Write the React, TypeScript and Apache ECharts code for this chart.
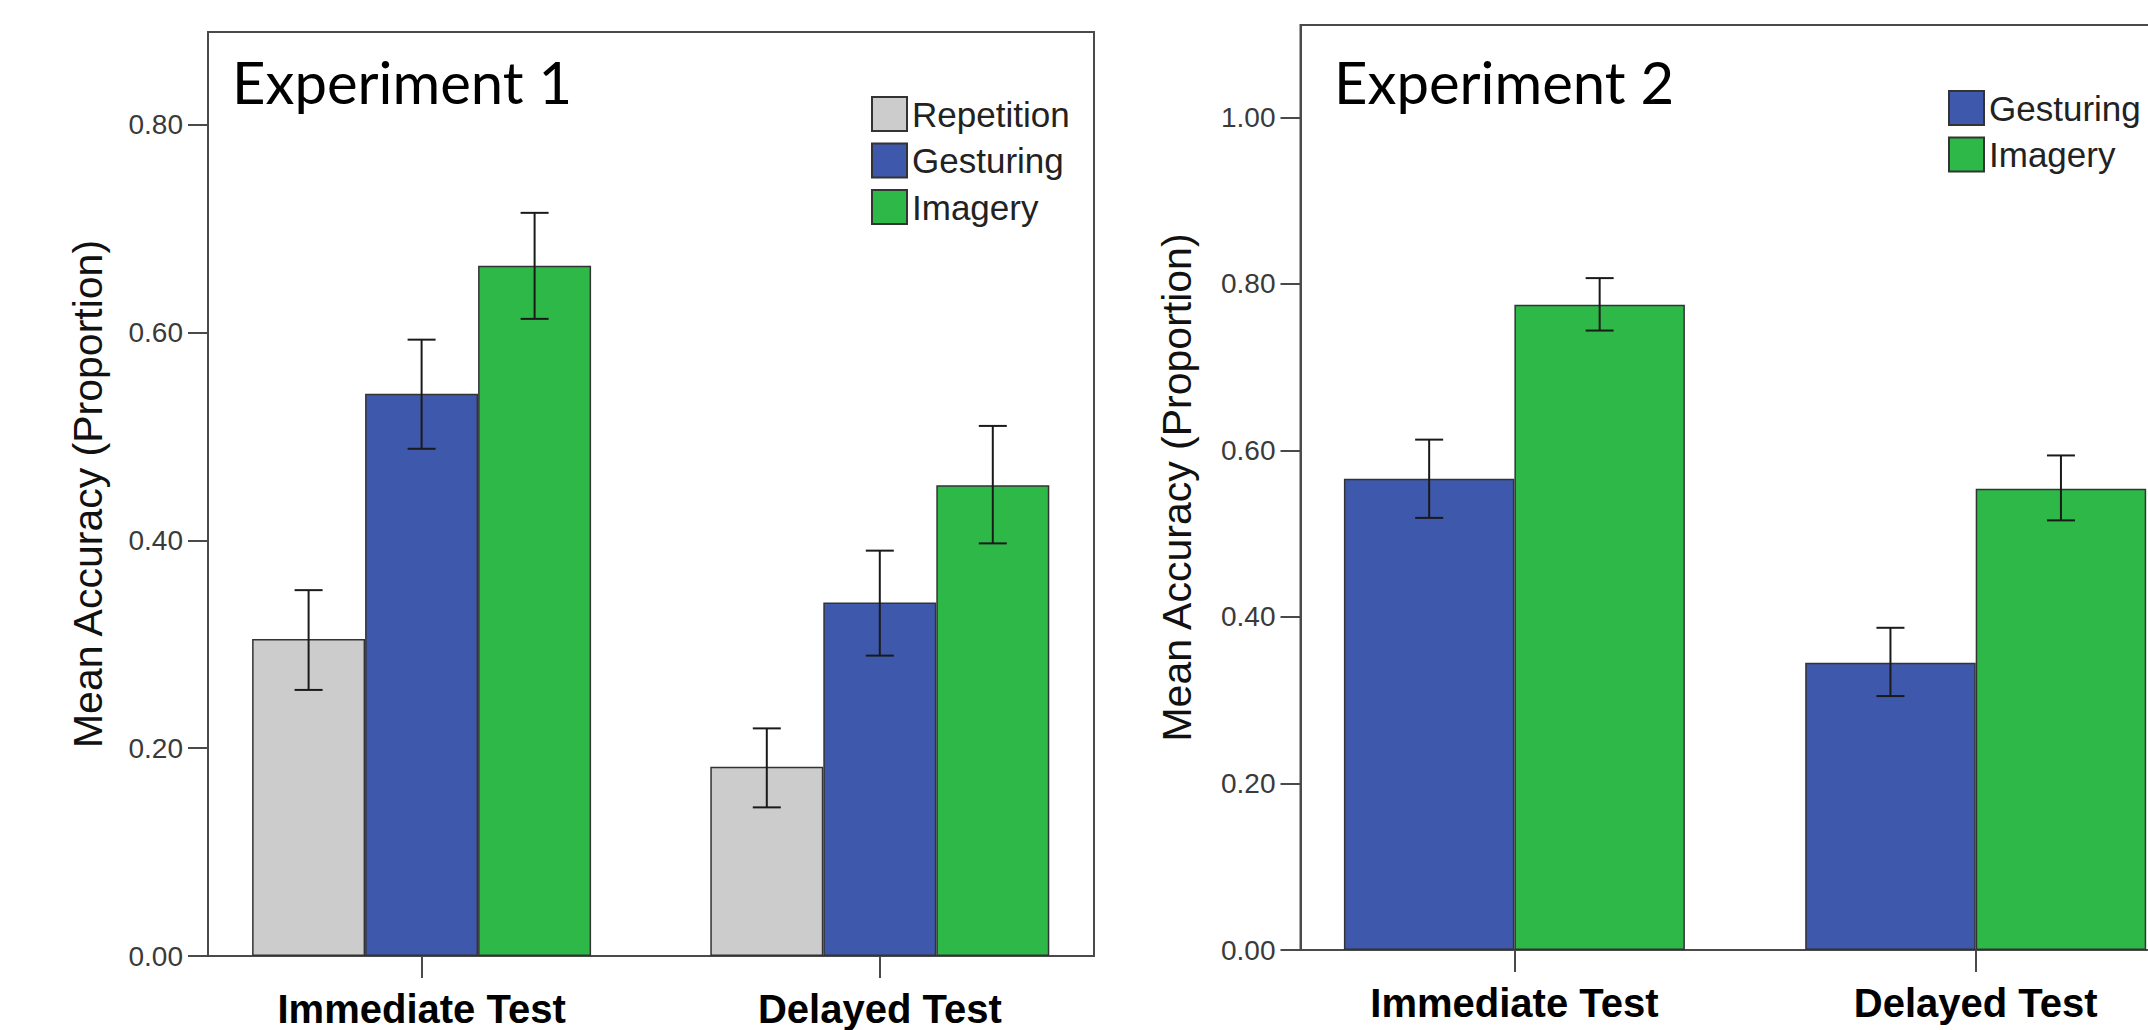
import React, { useEffect, useRef } from "react";
import * as echarts from "echarts";

// ---------- data ----------
const categories = ["Immediate Test", "Delayed Test"];

// Experiment 1
const exp1Series = ["Repetition", "Gesturing", "Imagery"];
const exp1Repetition = [0.305, 0.182];
const exp1RepetitionLow = [0.256, 0.143];
const exp1RepetitionHigh = [0.352, 0.219];
const exp1Gesturing = [0.541, 0.34];
const exp1GesturingLow = [0.488, 0.289];
const exp1GesturingHigh = [0.593, 0.39];
const exp1Imagery = [0.664, 0.453];
const exp1ImageryLow = [0.613, 0.397];
const exp1ImageryHigh = [0.715, 0.51];
const exp1Ticks = [0, 0.2, 0.4, 0.6, 0.8];
const exp1Max = 0.889;

// Experiment 2
const exp2Series = ["Gesturing", "Imagery"];
const exp2Gesturing = [0.566, 0.345];
const exp2GesturingLow = [0.519, 0.305];
const exp2GesturingHigh = [0.613, 0.387];
const exp2Imagery = [0.775, 0.554];
const exp2ImageryLow = [0.744, 0.516];
const exp2ImageryHigh = [0.807, 0.594];
const exp2Ticks = [0, 0.2, 0.4, 0.6, 0.8, 1.0];
const exp2Max = 1.111;

const titles = ["Experiment 1", "Experiment 2"];
const yName = "Mean Accuracy (Proportion)";

// ---------- styles ----------
const COLORS: Record<string, string> = {
  Repetition: "#cccccc",
  Gesturing: "#3e58ac",
  Imagery: "#2eb848",
};
const SANS = "'Liberation Sans', Arial, sans-serif";
const FRAME = "#4a4a4a";

function errSeries(
  xAxisIndex: number,
  yAxisIndex: number,
  lows: number[],
  highs: number[],
  k: number,
  n: number,
  barW: number
) {
  return {
    type: "custom",
    xAxisIndex,
    yAxisIndex,
    silent: true,
    z: 10,
    encode: { x: 0, y: [1, 2] },
    data: lows.map((lo, i) => [i, lo, highs[i]]),
    renderItem: (_p: any, api: any) => {
      const i = api.value(0);
      const lo = api.coord([i, api.value(1)]);
      const hi = api.coord([i, api.value(2)]);
      const x = lo[0] + (k - (n - 1) / 2) * barW;
      const cap = 14;
      const style = { stroke: "#1a1a1a", lineWidth: 2 };
      return {
        type: "group",
        children: [
          { type: "line", shape: { x1: x, y1: lo[1], x2: x, y2: hi[1] }, style },
          { type: "line", shape: { x1: x - cap, y1: hi[1], x2: x + cap, y2: hi[1] }, style },
          { type: "line", shape: { x1: x - cap, y1: lo[1], x2: x + cap, y2: lo[1] }, style },
        ],
      };
    },
  };
}

function barSeries(name: string, data: number[], xAxisIndex: number, yAxisIndex: number, barW: number) {
  return {
    type: "bar",
    name,
    xAxisIndex,
    yAxisIndex,
    data,
    barWidth: barW,
    barGap: "0%",
    itemStyle: { color: COLORS[name], borderColor: "#333", borderWidth: 1.5 },
    silent: true,
  };
}

function valueAxis(gridIndex: number, max: number, ticks: number[], visible: boolean, nameGap: number) {
  if (!visible) {
    return { type: "value", gridIndex, min: 0, max, interval: 0.2, show: false, splitLine: { show: false } };
  }
  return {
    type: "value",
    gridIndex,
    min: 0,
    max,
    interval: 0.2,
    name: yName,
    nameLocation: "middle",
    nameRotate: 90,
    nameGap,
    nameMoveOverlap: false,
    nameTextStyle: { fontSize: 41, color: "#111", fontFamily: SANS },
    axisLine: { show: true, lineStyle: { color: FRAME, width: 2 } },
    axisTick: { show: true, length: 20, lineStyle: { color: FRAME, width: 2 }, customValues: ticks },
    axisLabel: {
      fontSize: 28,
      color: "#3a3a3a",
      fontFamily: SANS,
      margin: 25,
      customValues: ticks,
      formatter: (v: number) => v.toFixed(2),
    },
    splitLine: { show: false },
  };
}

function catAxis(gridIndex: number, visible: boolean) {
  if (!visible) return { type: "category", gridIndex, data: categories, show: false };
  return {
    type: "category",
    gridIndex,
    data: categories,
    axisLine: { show: false },
    axisTick: { show: true, alignWithLabel: true, length: 22, lineStyle: { color: FRAME, width: 2 } },
    axisLabel: { fontSize: 40, fontWeight: "bold", color: "#000", fontFamily: SANS, margin: 33 },
  };
}

export default function App() {
  const ref = useRef<HTMLDivElement>(null);
  useEffect(() => {
    if (!ref.current) return;
    const chart = echarts.init(ref.current, undefined, { renderer: "svg" });
    const bw1 = 113;
    const bw2 = 170.5;
    const legendCommon = {
      orient: "vertical",
      itemWidth: 35,
      itemHeight: 34,
      itemGap: 10.5,
      padding: 0,
      icon: "rect",
      selectedMode: false,
      textStyle: { fontSize: 35, color: "#222", fontFamily: SANS },
      itemStyle: { borderColor: "#333", borderWidth: 2 },
    };
    chart.setOption({
      animation: false,
      backgroundColor: "#fff",
      grid: [
        { left: 208, top: 32, width: 886, height: 924, show: true, borderColor: FRAME, borderWidth: 2, backgroundColor: "transparent" },
        { left: 192.5, top: 32, width: 916.4, height: 924 },
        { left: 1300.5, top: 25, width: 889, height: 925, show: true, borderColor: FRAME, borderWidth: 2, backgroundColor: "transparent" },
        { left: 1283.75, top: 25, width: 922.6, height: 925 },
      ],
      xAxis: [catAxis(0, false), catAxis(1, true), catAxis(2, false), catAxis(3, true)],
      yAxis: [
        valueAxis(0, exp1Max, exp1Ticks, true, 100),
        valueAxis(1, exp1Max, exp1Ticks, false, 0),
        valueAxis(2, exp2Max, exp2Ticks, true, 103),
        valueAxis(3, exp2Max, exp2Ticks, false, 0),
      ],
      legend: [
        { ...legendCommon, data: exp1Series, left: 871, top: 96 },
        { ...legendCommon, data: exp2Series, left: 1948, top: 90 },
      ],
      graphic: [
        { type: "text", x: 232, y: 81, style: { text: titles[0], font: "58px Lato", fill: "#000", verticalAlign: "middle" } },
        { type: "text", x: 1334, y: 81, style: { text: titles[1], font: "58px Lato", fill: "#000", verticalAlign: "middle" } },
      ],
      series: [
        barSeries("Repetition", exp1Repetition, 1, 1, bw1),
        barSeries("Gesturing", exp1Gesturing, 1, 1, bw1),
        barSeries("Imagery", exp1Imagery, 1, 1, bw1),
        errSeries(1, 1, exp1RepetitionLow, exp1RepetitionHigh, 0, 3, bw1),
        errSeries(1, 1, exp1GesturingLow, exp1GesturingHigh, 1, 3, bw1),
        errSeries(1, 1, exp1ImageryLow, exp1ImageryHigh, 2, 3, bw1),
        barSeries("Gesturing", exp2Gesturing, 3, 3, bw2),
        barSeries("Imagery", exp2Imagery, 3, 3, bw2),
        errSeries(3, 3, exp2GesturingLow, exp2GesturingHigh, 0, 2, bw2),
        errSeries(3, 3, exp2ImageryLow, exp2ImageryHigh, 1, 2, bw2),
      ],
    });
    return () => chart.dispose();
  }, []);
  return (
    <div
      style={{ position: "absolute", left: 0, top: 0, width: 2148, height: 1030, overflow: "hidden", background: "#fff" }}
    >
      <div ref={ref} style={{ position: "absolute", left: 0, top: 0, width: 2240, height: 1030 }} />
    </div>
  );
}
